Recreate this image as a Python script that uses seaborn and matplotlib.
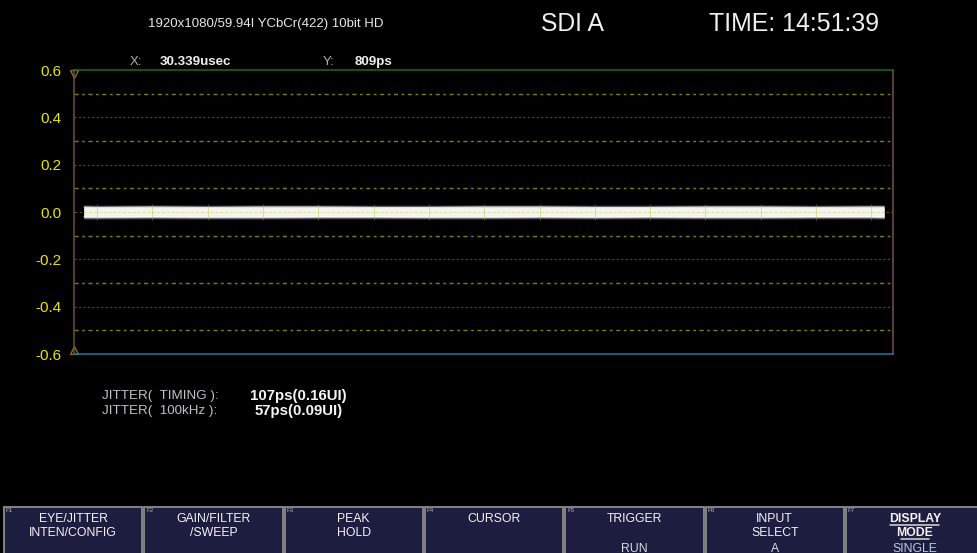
import matplotlib
matplotlib.use("Agg")
import matplotlib.pyplot as plt
import seaborn as sns
import numpy as np
from matplotlib.patches import Rectangle

y_ticks = [0.6, 0.4, 0.2, 0.0, -0.2, -0.4, -0.6]
y_labels = ["0.6", "0.4", "0.2", "0.0", "-0.2", "-0.4", "-0.6"]
grid_major = [0.4, 0.2, -0.2, -0.4]
grid_minor = [0.5, 0.3, 0.1, -0.1, -0.3, -0.5]
x_divs = list(range(0, 15))

# jitter band envelope (UI) along the sweep
band_x = [-0.24, 0, 1, 2, 3, 4, 5, 6, 7, 8, 9, 10, 11, 12, 13, 14, 14.23]
band_hi = [0.021, 0.020, 0.021, 0.020, 0.021, 0.021, 0.020, 0.020, 0.021,
           0.021, 0.020, 0.020, 0.021, 0.021, 0.020, 0.021, 0.021]
band_lo = [-0.021, -0.021, -0.020, -0.021, -0.021, -0.020, -0.020, -0.021,
           -0.021, -0.020, -0.021, -0.020, -0.021, -0.021, -0.020, -0.020, -0.021]

header = "1920x1080/59.94I YCbCr(422) 10bit HD"
input_name = "SDI A"
clock = "TIME: 14:51:39"
cursor_x = "30.339usec"
cursor_y = "809ps"
jitter_names = ["JITTER(  TIMING ):", "JITTER(  100kHz ):"]
jitter_vals = ["107ps(0.16UI)", "57ps(0.09UI)"]

btn_keys = ["F1", "F2", "F3", "F4", "F5", "F6", "F7"]
btn_line1 = ["EYE/JITTER", "GAIN/FILTER", "PEAK", "CURSOR", "TRIGGER", "INPUT", "DISPLAY"]
btn_line2 = ["INTEN/CONFIG", "/SWEEP", "HOLD", "", "", "SELECT", "MODE"]
btn_line3 = ["", "", "", "", "RUN", "A", "SINGLE"]

sns.set_style("dark")
plt.rcParams["font.family"] = ["Liberation Sans", "DejaVu Sans"]

W, H = 978, 553
fig = plt.figure(figsize=(W / 100, H / 100), dpi=100, facecolor="black")
ax = fig.add_axes([74 / W, 1 - 354 / H, (893 - 74) / W, (354 - 70) / H])
ax.set_facecolor("black")
ax.set_xlim(-0.416, 14.39)
ax.set_ylim(-0.6, 0.6)
ax.grid(False)

for g in grid_major:
    ax.axhline(g, color="#484848", lw=0.8, ls=(0, (2, 2)))
for g in grid_minor:
    ax.axhline(g, color="#7c7c14", lw=1.0, ls=(0, (3, 2.5, 2, 2.5)))

# jitter band
ax.fill_between(band_x, np.array(band_hi) + 0.009, np.array(band_lo) - 0.009,
                color="#5a5a6a", alpha=0.7, lw=0)
ax.fill_between(band_x, np.array(band_hi) + 0.004, np.array(band_lo) - 0.004,
                color="#c0c0bc", alpha=0.85, lw=0)
ax.fill_between(band_x, band_hi, band_lo, color="#f4f4ec", lw=0)
sns.lineplot(x=band_x, y=band_hi, ax=ax, color="#ffffff", lw=0.5)
sns.lineplot(x=band_x, y=band_lo, ax=ax, color="#ffffff", lw=0.5)
ax.axhline(0, color="#c8c840", lw=0.7, ls=(0, (3, 2.5, 2, 2.5)), alpha=0.5)
ax.vlines(x_divs, -0.035, 0.035, color="#b4b430", lw=0.6, alpha=0.45)

ax.set_yticks(y_ticks)
ax.set_yticklabels(y_labels)
ax.set_xticks([])
ax.tick_params(axis="y", length=0, pad=9, labelsize=11, labelcolor="#e8e800")
ax.set_xlabel("")
ax.set_ylabel("")
for side, col in [("left", "#6b5230"), ("right", "#7a4e4e"),
                  ("top", "#1e6a1e"), ("bottom", "#1f78a8")]:
    ax.spines[side].set_visible(True)
    ax.spines[side].set_color(col)
    ax.spines[side].set_linewidth(1.1)

ax.plot([-0.416], [0.585], marker="v", ms=6, mfc="none", mec="#8a6a30",
        clip_on=False, mew=1)
ax.plot([-0.416], [-0.585], marker="^", ms=6, mfc="none", mec="#8a6a30",
        clip_on=False, mew=1)

# overlay in pixel coordinates for screen text and soft keys
ov = fig.add_axes([0, 0, 1, 1])
ov.set_xlim(0, W)
ov.set_ylim(H, 0)
ov.axis("off")
ov.patch.set_alpha(0)

ov.text(148, 24, header, color="#e8e8e8", fontsize=9.5, va="center", ha="left")
ov.text(541, 24, input_name, color="#f0f0f0", fontsize=17.8, va="center", ha="left")
ov.text(709, 24, clock, color="#f0f0f0", fontsize=17.9, va="center", ha="left")
ov.text(130, 62, "X:", color="#b0b0b0", fontsize=9.5, va="center")
ov.text(160, 62, cursor_x, color="#f0f0f0", fontsize=9.6, va="center", weight="bold")
ov.text(323, 62, "Y:", color="#b0b0b0", fontsize=9.5, va="center")
ov.text(355, 62, cursor_y, color="#f0f0f0", fontsize=9.6, va="center", weight="bold")

for i, (name, val) in enumerate(zip(jitter_names, jitter_vals)):
    y = 396 + i * 15
    ov.text(102, y, name, color="#c0c0c8", fontsize=9.6, va="center")
    ov.text(250 + 5 * i, y, val, color="#f4f4f4", fontsize=10.8, va="center", weight="bold")

bw = 140.3
for i, key in enumerate(btn_keys):
    x0 = 4 + i * bw
    ov.add_patch(Rectangle((x0, 507), bw - 2, 50, facecolor="#1d1d40",
                           edgecolor="#8c8c8c", lw=1.3, clip_on=False))
    ov.text(x0 + 2, 511, key, color="#b0b0b0", fontsize=4.5, va="center", ha="left")
    cx = x0 + bw / 2 - 1
    bold = key == "F7"
    for txt, yy in [(btn_line1[i], 518.5), (btn_line2[i], 532.5)]:
        if txt:
            ov.text(cx, yy, txt, color="#f4f4f4", fontsize=8.8, ha="center",
                    va="center", weight="bold" if bold else "normal")
            if bold:
                half = len(txt) * 3.5
                ov.plot([cx - half, cx + half], [yy + 6.5, yy + 6.5], color="#d8d8d8", lw=1.1)
    if btn_line3[i]:
        col = "#b8cce8" if bold else "#d8d8e0"
        ov.text(cx, 548.5, btn_line3[i], color=col, fontsize=8.8, ha="center", va="center")

fig.savefig("out.png", dpi=100, facecolor="black")
